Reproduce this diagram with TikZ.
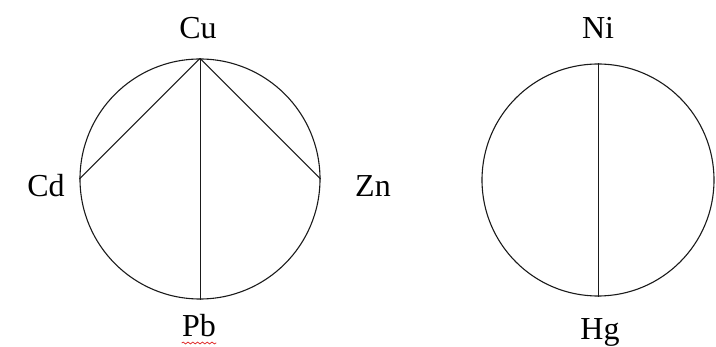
\documentclass[tikz,border=0pt]{standalone}
\usepackage{fontspec}
\setmainfont{Liberation Serif}
\usepackage{tikz}
\usepackage{xcolor}
\usetikzlibrary{positioning,calc,decorations.pathmorphing}
\definecolor{ink}{HTML}{1A1A1A}
\definecolor{spellred}{HTML}{E03030}
\tikzset{
  ring/.style={draw=ink,circle,line width=0.55pt,inner sep=0pt},
  chord/.style={draw=ink,line width=0.5pt},
  elem/.style={font=\fontsize{16}{19}\selectfont,inner sep=0pt,anchor=base},
  squiggle/.style={draw=spellred,line width=0.4pt,
                   decorate,decoration={snake,amplitude=0.45pt,segment length=2.4pt}}
}

\begin{document}
\begin{tikzpicture}[x=0.5pt,y=0.5pt]
  \useasboundingbox (0,0) rectangle (716,347);
  % left ring with four elements
  \node[ring,minimum size=120pt] (ringL) at (200,168) {};
  \draw[chord] (ringL.north) -- (ringL.west);
  \draw[chord] (ringL.north) -- (ringL.east);
  \draw[chord] (ringL.north) -- (ringL.south);
  \node[elem] (cu) at (198,308) {Cu};
  \node[elem] (cd) at (46,150) {Cd};
  \node[elem] (zn) at (373,150) {Zn};
  \node[elem] (pb) at (199,10) {Pb};
  \draw[squiggle] ([yshift=-3pt]pb.base west) -- ([yshift=-3pt]pb.base east);
  % right ring split in two
  \node[ring,minimum size=116pt] (ringR) at (598,167) {};
  \draw[chord] (ringR.north) -- (ringR.south);
  \node[elem] (ni) at (598,308) {Ni};
  \node[elem] (hg) at (600,7) {Hg};
\end{tikzpicture}
\end{document}
